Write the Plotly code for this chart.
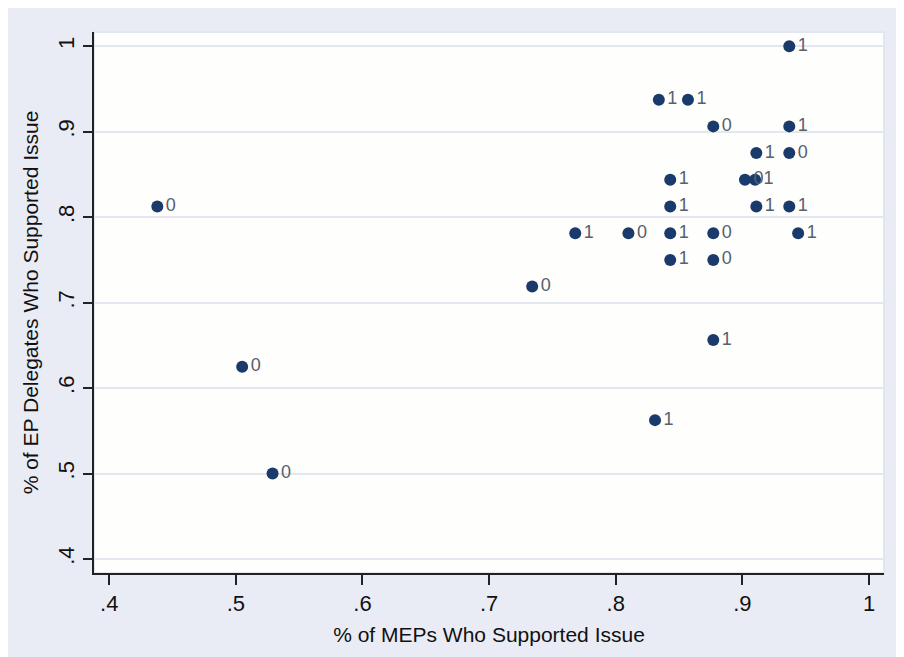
import plotly.graph_objects as go

# Data
meps_support = [0.937, 0.834, 0.857, 0.877, 0.937, 0.911, 0.937, 0.843, 0.902, 0.910,
                0.843, 0.911, 0.937, 0.438, 0.768, 0.810, 0.843, 0.877, 0.944,
                0.843, 0.877, 0.734, 0.877, 0.505, 0.831, 0.529]
ep_support = [1.0, 0.9375, 0.9375, 0.90625, 0.90625, 0.875, 0.875, 0.84375, 0.84375, 0.84375,
              0.8125, 0.8125, 0.8125, 0.8125, 0.78125, 0.78125, 0.78125, 0.78125, 0.78125,
              0.75, 0.75, 0.71875, 0.65625, 0.625, 0.5625, 0.5]
outcome = ["1", "1", "1", "0", "1", "1", "0", "1", "0", "1",
           "1", "1", "1", "0", "1", "0", "1", "0", "1",
           "1", "0", "0", "1", "0", "1", "0"]

x_ticks = [0.4, 0.5, 0.6, 0.7, 0.8, 0.9, 1.0]
x_tick_labels = [".4", ".5", ".6", ".7", ".8", ".9", "1"]
y_ticks = [0.4, 0.5, 0.6, 0.7, 0.8, 0.9, 1.0]
y_tick_labels = [".4", ".5", ".6", ".7", ".8", ".9", "1"]

FONT = "Liberation Sans, Arial, sans-serif"
NAVY = "#1a3a6c"

fig = go.Figure()
fig.add_trace(go.Scatter(
    x=meps_support, y=ep_support, text=outcome,
    mode="markers+text", textposition="middle right",
    marker=dict(color=NAVY, size=12, line=dict(width=0)),
    textfont=dict(family=FONT, size=18, color="#56606e"),
    showlegend=False, hoverinfo="x+y+text",
))

# light plot-region outline
fig.add_shape(type="rect", xref="paper", yref="paper", x0=0, x1=1, y0=0, y1=1,
              line=dict(color="#e2e6f0", width=2), fillcolor="rgba(0,0,0,0)", layer="below")

fig.update_layout(
    width=904, height=657,
    margin=dict(l=86, r=28, t=24, b=92),
    paper_bgcolor="#eaecf5",
    plot_bgcolor="#fefefc",
    font=dict(family=FONT, size=21, color="#111111"),
    xaxis=dict(
        range=[0.388, 1.0118], tickvals=x_ticks, ticktext=x_tick_labels,
        showgrid=False, zeroline=False,
        showline=True, linecolor="#222222", linewidth=1.5,
        ticks="outside", ticklen=10, tickwidth=1.5, tickcolor="#222222",
        tickfont=dict(size=22),
        title=dict(text="% of MEPs Who Supported Issue", font=dict(size=21), standoff=12),
    ),
    yaxis=dict(
        range=[0.3836, 1.0167], tickvals=y_ticks, ticktext=y_tick_labels,
        showgrid=True, gridcolor="#e4e7f0", gridwidth=1.5, zeroline=False,
        showline=True, linecolor="#222222", linewidth=1.5,
        ticks="outside", ticklen=9, tickwidth=1.5, tickcolor="#222222",
        tickangle=-90, tickfont=dict(size=22), ticklabelstandoff=0,
        title=dict(text="% of EP Delegates Who Supported Issue", font=dict(size=21), standoff=10),
    ),
)

fig.write_html("out.html")
